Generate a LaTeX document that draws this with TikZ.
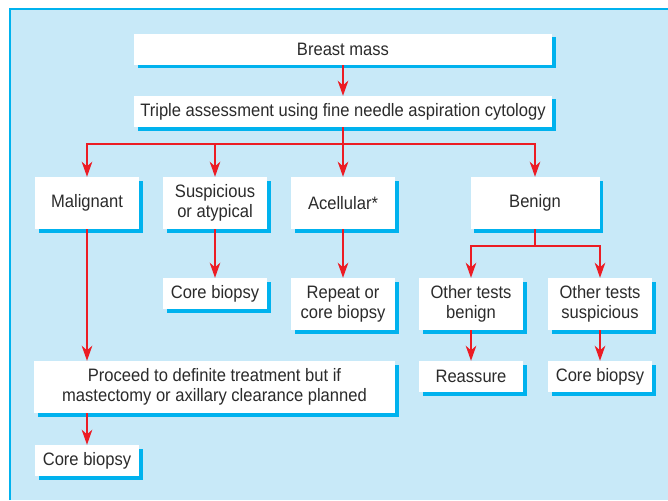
\documentclass[tikz,border=0pt]{standalone}
\usepackage{fontspec}
\setmainfont[FakeStretch=0.92]{Liberation Sans}
\usetikzlibrary{arrows.meta,shadows}
\definecolor{panelblue}{HTML}{C8E9F8}
\definecolor{edgecyan}{HTML}{00B2EE}
\definecolor{flowred}{HTML}{EC1C24}
\definecolor{inktext}{HTML}{2B2B2B}
\tikzset{
  box/.style={fill=white, draw=none, text=inktext, align=center, inner sep=2pt,
    font=\fontsize{18}{20.5}\selectfont,
    drop shadow={shadow xshift=3.5pt, shadow yshift=-3.5pt, fill=edgecyan, opacity=1}},
  flow/.style={draw=flowred, line width=2.2pt, -{Stealth[length=15pt,width=10.5pt,inset=4.5pt]}},
  link/.style={draw=flowred, line width=2.2pt}
}
\begin{document}
\begin{tikzpicture}[x=1pt,y=-1pt]
  \useasboundingbox (0,0) rectangle (668,500);
  % panel
  \fill[white] (0,0) rectangle (668,500);
  \fill[panelblue] (10,9) rectangle (668,500);
  \draw[edgecyan, line width=1.2pt] (10,500) -- (10,9) -- (668,9);

  % boxes
  \node[box, minimum width=418pt, minimum height=31pt] (mass) at (343,49.5) {Breast mass};
  \node[box, minimum width=418pt, minimum height=31pt] (triple) at (343,111.5) {Triple assessment using fine needle aspiration cytology};
  \node[box, minimum width=104pt, minimum height=52pt] (malig) at (87,203) {Malignant};
  \node[box, minimum width=104pt, minimum height=52pt] (susp) at (215,203) {Suspicious\\or atypical};
  \node[box, minimum width=104pt, minimum height=52pt] (acell) at (343,203) {Acellular*};
  \node[box, minimum width=129pt, minimum height=52pt] (benign) at (535,203) {Benign};
  \node[box, minimum width=104pt, minimum height=31pt] (cbsusp) at (215,293.5) {Core biopsy};
  \node[box, minimum width=104pt, minimum height=52pt] (repeat) at (343,304) {Repeat or\\core biopsy};
  \node[box, minimum width=104pt, minimum height=52pt] (otb) at (471,304) {Other tests\\benign};
  \node[box, minimum width=104pt, minimum height=52pt] (ots) at (600,304) {Other tests\\suspicious};
  \node[box, minimum width=104pt, minimum height=31pt] (reassure) at (471,376.5) {Reassure};
  \node[box, minimum width=104pt, minimum height=31pt] (cbots) at (600,376.5) {Core biopsy};
  \node[box, minimum width=361pt, minimum height=52pt] (proceed) at (214.5,387) {Proceed to definite treatment but if\\mastectomy or axillary clearance planned};
  \node[box, minimum width=104pt, minimum height=31pt] (cbmal) at (87,460.5) {Core biopsy};

  % connectors
  \coordinate (split) at (343,144);
  \coordinate (bsplit) at (535,246);
  \draw[flow] (mass) -- (triple);
  \draw[link] (triple.south) -- (split);
  \draw[flow] (split) -| (malig.north);
  \draw[flow] (split) -| (susp.north);
  \draw[flow] (split) -- (acell.north);
  \draw[flow] (split) -| (benign.north);
  \draw[flow] (susp) -- (cbsusp);
  \draw[flow] (acell) -- (repeat);
  \draw[link] (benign.south) -- (bsplit);
  \draw[flow] (bsplit) -| (otb.north);
  \draw[flow] (bsplit) -| (ots.north);
  \draw[flow] (otb) -- (reassure);
  \draw[flow] (ots) -- (cbots);
  \draw[flow] (malig.south) -- (malig.south |- proceed.north);
  \draw[flow] (proceed.south -| cbmal.north) -- (cbmal.north);
\end{tikzpicture}
\end{document}
